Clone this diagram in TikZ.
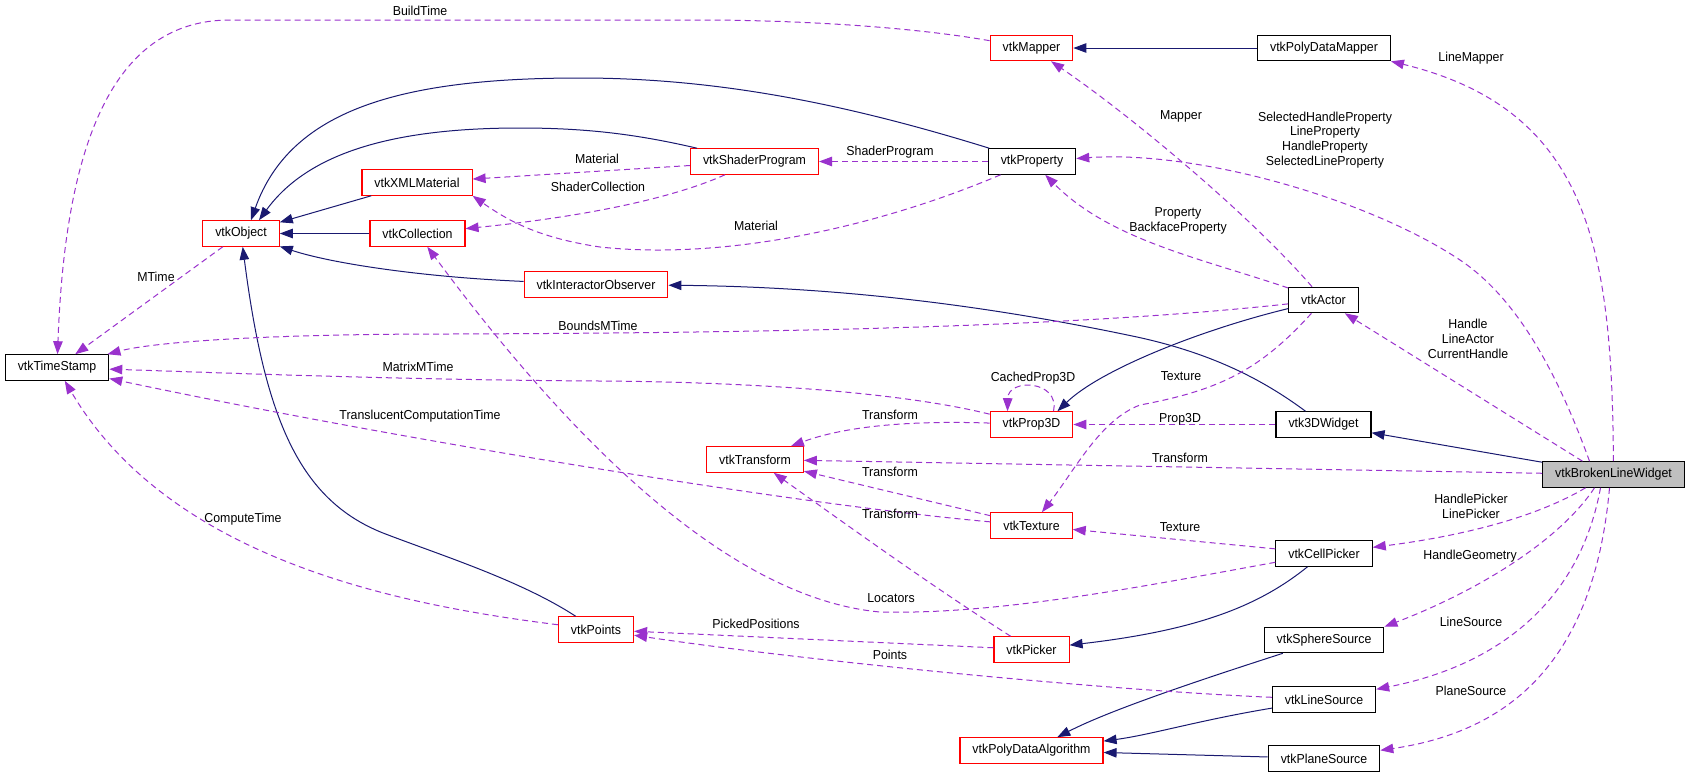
\documentclass[tikz,border=0pt]{standalone}
\usepackage{fontspec}
\newfontfamily\dotfont[FakeStretch=0.95]{Liberation Sans}
\usetikzlibrary{arrows.meta}
\definecolor{inhcol}{HTML}{191970}
\definecolor{depcol}{HTML}{9A32CD}
\definecolor{curcol}{HTML}{BFBFBF}
\tikzset{
  cls/.style={draw, line width=1.1pt, inner xsep=12.5pt, inner ysep=0pt,
              minimum height=25.5pt, font=\dotfont\fontsize{13}{14.8}\selectfont},
  redcls/.style={cls, draw=red},
  blkcls/.style={cls, draw=black},
  curcls/.style={cls, draw=black, fill=curcol},
  inh/.style={-{Triangle[length=13pt,width=9.5pt]}, draw=inhcol, line width=1pt},
  dep/.style={-{Triangle[length=13pt,width=9.5pt]}, draw=depcol, line width=1pt,
              dash pattern=on 6pt off 4pt},
  lbl/.style={font=\dotfont\fontsize{13}{14.8}\selectfont, align=center, inner sep=0pt},
}

\begin{document}
\begin{tikzpicture}[x=1pt,y=-1pt]
  \path[use as bounding box, fill=white] (0,0) rectangle (1688,777);

  % classes
  \node[blkcls] (ts) at (57,367.5) {vtkTimeStamp};
  \node[redcls] (obj) at (241,233.5) {vtkObject};
  \node[redcls] (xml) at (417,182.5) {vtkXMLMaterial};
  \node[redcls] (coll) at (417.5,233.5) {vtkCollection};
  \node[redcls] (io) at (596,284.5) {vtkInteractorObserver};
  \node[redcls] (shp) at (754.5,161.5) {vtkShaderProgram};
  \node[redcls] (tr) at (755,459.5) {vtkTransform};
  \node[redcls] (pts) at (596,629.5) {vtkPoints};
  \node[redcls] (mapper) at (1031.5,48) {vtkMapper};
  \node[blkcls] (prop) at (1032,161.5) {vtkProperty};
  \node[redcls] (p3d) at (1031.5,424.5) {vtkProp3D};
  \node[redcls] (tex) at (1031.5,525.5) {vtkTexture};
  \node[redcls] (pick) at (1031.5,649.5) {vtkPicker};
  \node[redcls] (pda) at (1031.5,750.5) {vtkPolyDataAlgorithm};
  \node[blkcls] (pdm) at (1324,48) {vtkPolyDataMapper};
  \node[blkcls] (actor) at (1323.5,300) {vtkActor};
  \node[blkcls] (w3d) at (1323.5,424.5) {vtk3DWidget};
  \node[blkcls] (cpick) at (1324,553.5) {vtkCellPicker};
  \node[blkcls] (sph) at (1324,640) {vtkSphereSource};
  \node[blkcls] (lsrc) at (1324,699.5) {vtkLineSource};
  \node[blkcls] (psrc) at (1324,758.5) {vtkPlaneSource};
  \node[curcls] (blw) at (1613.5,474.5) {vtkBrokenLineWidget};

  % inheritance
  \draw[inh] (pdm) -- (mapper);
  \draw[inh] (prop) .. controls (850,105) and (720,78) .. (580,78)
             .. controls (400,78) and (290,110) .. ([xshift=10pt]obj.north);
  \draw[inh] (shp) .. controls (640,135) and (590,128) .. (520,128)
             .. controls (400,128) and (310,150) .. ([xshift=18pt]obj.north);
  \draw[inh] (xml) -- (obj);
  \draw[inh] (coll) -- (obj);
  \draw[inh] (io) .. controls (420,277) and (330,263) .. (obj);
  \draw[inh] (pts) .. controls (520,580) and (440,555) .. (383,533)
             .. controls (300,500) and (265,420) .. (obj);
  \draw[inh] (actor) .. controls (1200,330) and (1100,370) .. ([xshift=26pt]p3d.north);
  \draw[inh] ([xshift=-18pt]w3d.north) .. controls (1270,385) and (1220,355) .. (1137,337)
             .. controls (1000,308) and (850,287) .. (io);
  \draw[inh] (cpick) .. controls (1260,605) and (1200,630) .. (pick);
  \draw[inh] (sph) .. controls (1200,680) and (1110,710) .. (pda);
  \draw[inh] (lsrc) .. controls (1200,720) and (1150,735) .. (pda);
  \draw[inh] (psrc) -- (pda);
  \draw[inh] (blw) -- (w3d);

  % usage
  \draw[dep] (mapper) .. controls (900,25) and (780,20) .. (700,20) -- (230,20)
             .. controls (110,20) and (65,150) .. (ts);
  \draw[dep] (obj) -- (ts);
  \draw[dep] (actor) .. controls (1050,330) and (700,333) .. (450,334)
             .. controls (250,334) and (150,343) .. (ts);
  \draw[dep] (p3d) .. controls (900,392) and (750,382) .. (600,381)
             .. controls (400,380) and (200,372) .. (ts);
  \draw[dep] (tex) .. controls (800,505) and (400,440) .. (ts);
  \draw[dep] (pts) .. controls (400,605) and (170,560) .. (ts);
  \draw[dep] (prop) -- (shp);
  \draw[dep] (shp) -- (xml);
  \draw[dep] (shp) .. controls (680,195) and (600,215) .. (coll);
  \draw[dep] (prop) .. controls (870,230) and (720,260) .. (600,247)
             .. controls (540,238) and (510,222) .. (xml.south east);
  \draw[dep] (actor) .. controls (1250,215) and (1130,115) .. (mapper);
  \draw[dep] (actor) .. controls (1200,258) and (1110,240) .. (prop);
  \draw[dep] (blw) .. controls (1612,250) and (1590,110) .. (pdm.south east);
  \draw[dep] ([xshift=-24pt]blw.north) .. controls (1560,380) and (1520,300) .. (1460,260)
             .. controls (1370,200) and (1200,150) .. (prop);
  \draw[dep] ([xshift=-31pt]blw.north) -- (actor);
  \draw[dep] (blw) -- (tr);
  \draw[dep] (p3d) .. controls (900,420) and (840,428) .. (tr);
  \draw[dep] (tex) -- (tr);
  \draw[dep] (pick) .. controls (930,585) and (840,520) .. (tr);
  \draw[dep] ([xshift=22pt]p3d.north) .. controls (1060,380) and (1008,378) .. ([xshift=-24pt]p3d.north);
  \draw[dep] (w3d) -- (p3d);
  \draw[dep] (actor) .. controls (1260,370) and (1220,390) .. (1140,405)
             .. controls (1100,420) and (1075,470) .. (tex);
  \draw[dep] (cpick) -- (tex);
  \draw[dep] (cpick) .. controls (1150,585) and (1000,615) .. (880,612)
             .. controls (750,600) and (600,480) .. (coll);
  \draw[dep] (pick) -- (pts);
  \draw[dep] (lsrc) .. controls (1100,690) and (800,660) .. (pts);
  \draw[dep] ([xshift=-28pt]blw.south) .. controls (1540,515) and (1470,535) .. (cpick);
  \draw[dep] ([xshift=-19pt]blw.south) .. controls (1560,540) and (1480,590) .. (sph.north east);
  \draw[dep] ([xshift=-13pt]blw.south) .. controls (1580,600) and (1500,665) .. (lsrc);
  \draw[dep] ([xshift=-4pt]blw.south) .. controls (1595,650) and (1520,730) .. (psrc);

  % edge labels
  \node[lbl] (lbuild) at (420,11) {BuildTime};
  \node[lbl] (lmtime) at (156,277) {MTime};
  \node[lbl] (lbounds) at (598,326) {BoundsMTime};
  \node[lbl] (lmatrix) at (418,367) {MatrixMTime};
  \node[lbl] (ltransl) at (420,416) {TranslucentComputationTime};
  \node[lbl] (lcompute) at (243,519) {ComputeTime};
  \node[lbl] (lmat) at (597,159) {Material};
  \node[lbl] (lshcoll) at (598,187) {ShaderCollection};
  \node[lbl] (lmatb) at (756,226) {Material};
  \node[lbl] (lshprog) at (890,152) {ShaderProgram};
  \node[lbl] (lmapper) at (1181,116) {Mapper};
  \node[lbl] (lprops) at (1325,140) {SelectedHandleProperty\\LineProperty\\HandleProperty\\SelectedLineProperty};
  \node[lbl] (llinemap) at (1471,58) {LineMapper};
  \node[lbl] (lprop) at (1178,221) {Property\\BackfaceProperty};
  \node[lbl] (ltexa) at (1181,376) {Texture};
  \node[lbl] (lhandle) at (1468,339) {Handle\\LineActor\\CurrentHandle};
  \node[lbl] (lcached) at (1033,378) {CachedProp3D};
  \node[lbl] (ltrp) at (890,415) {Transform};
  \node[lbl] (lp3d) at (1180,419) {Prop3D};
  \node[lbl] (ltrw) at (1180,458) {Transform};
  \node[lbl] (ltrt) at (890,472) {Transform};
  \node[lbl] (ltrk) at (890,514) {Transform};
  \node[lbl] (ltexc) at (1180,527) {Texture};
  \node[lbl] (lpickers) at (1471,506) {HandlePicker\\LinePicker};
  \node[lbl] (lhgeom) at (1470,556) {HandleGeometry};
  \node[lbl] (llocs) at (891,598) {Locators};
  \node[lbl] (lpicked) at (756,624) {PickedPositions};
  \node[lbl] (llsrc) at (1471,622) {LineSource};
  \node[lbl] (lpoints) at (890,655) {Points};
  \node[lbl] (lpsrc) at (1471,691) {PlaneSource};
\end{tikzpicture}
\end{document}
